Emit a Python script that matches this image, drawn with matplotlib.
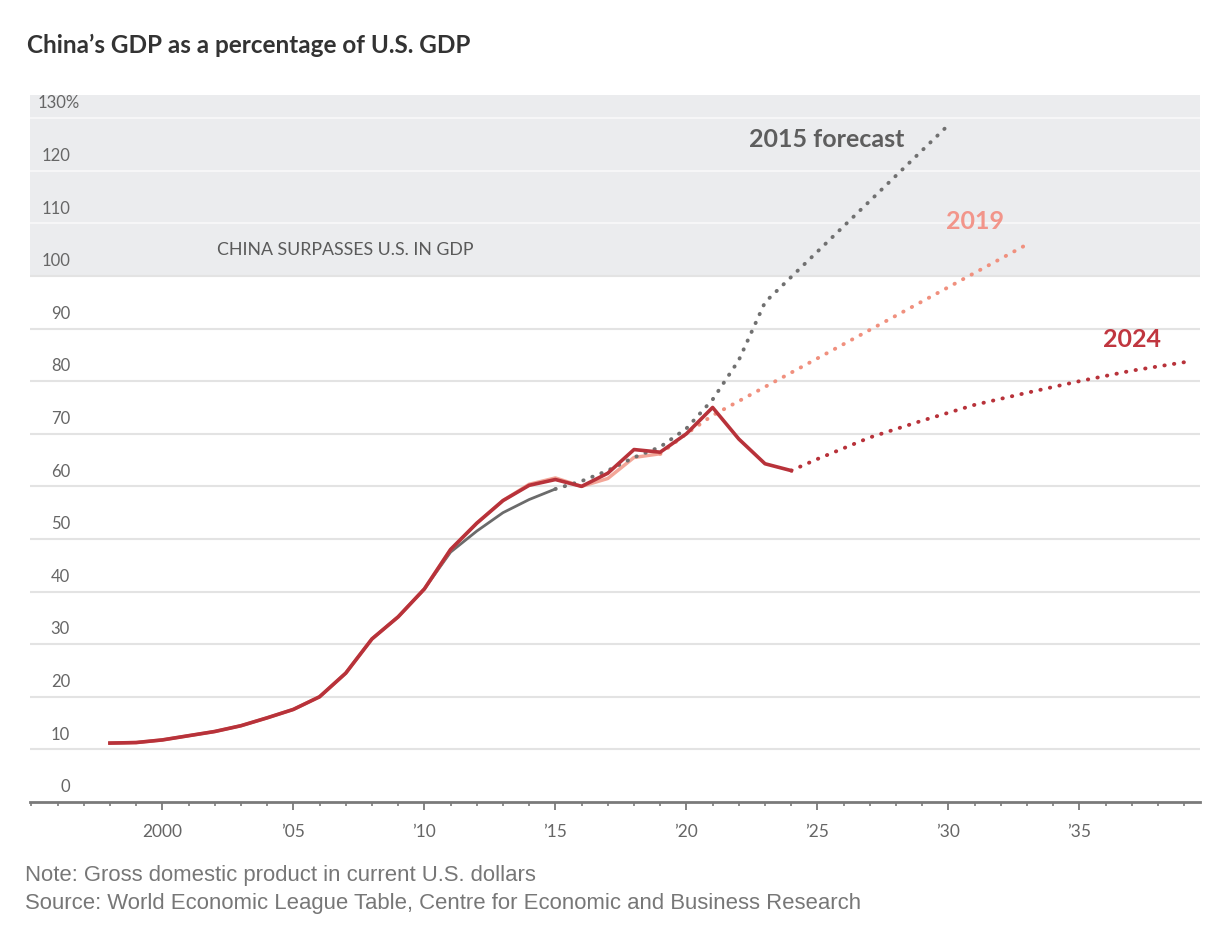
import matplotlib.pyplot as plt
from matplotlib.ticker import FixedLocator, MultipleLocator
import matplotlib.transforms as mtransforms

# --- data ---
years_hist = list(range(1998, 2025))
actual_2024 = [11.2, 11.3, 11.8, 12.6, 13.4, 14.5, 16.0, 17.6, 20.0, 24.5, 31.0,
               35.2, 40.5, 48.0, 53.0, 57.3, 60.2, 61.3, 60.0, 62.5, 67.0, 66.5,
               70.0, 75.0, 69.0, 64.3, 63.0]

years_2015 = list(range(1998, 2016))
actual_2015 = [11.2, 11.3, 11.8, 12.6, 13.4, 14.5, 16.0, 17.6, 20.0, 24.5, 31.0,
               35.2, 40.5, 47.5, 51.5, 55.0, 57.5, 59.5]
fc_2015_years = [2015, 2016, 2017, 2018, 2019, 2020, 2021, 2022, 2023, 2030]
fc_2015 = [59.5, 61.0, 63.0, 65.5, 67.5, 71.0, 76.5, 84.0, 95.0, 128.7]

years_2019 = list(range(1998, 2020))
actual_2019 = [11.2, 11.3, 11.8, 12.6, 13.4, 14.5, 16.0, 17.6, 20.0, 24.5, 31.0,
               35.2, 40.5, 48.0, 53.0, 57.3, 60.4, 61.6, 60.0, 61.5, 65.5, 66.2]
fc_2019_years = [2019, 2020, 2021, 2033]
fc_2019 = [66.2, 70.0, 73.5, 106.0]

fc_2024_years = [2024, 2025, 2027, 2029, 2031, 2033, 2035, 2037, 2039]
fc_2024 = [63.0, 65.2, 69.3, 72.5, 75.5, 77.8, 80.0, 82.0, 83.6]

y_ticks = list(range(0, 140, 10))
x_major = [2000, 2005, 2010, 2015, 2020, 2025, 2030, 2035]
x_labels = ['2000', '\u201905', '\u201910', '\u201915', '\u201920', '\u201925', '\u201930', '\u201935']

RED = '#b8323a'
SALMON = '#f0907e'
GRAY = '#6b6b6b'

plt.rcParams['font.family'] = ['Lato', 'DejaVu Sans']

fig = plt.figure(figsize=(12.06, 9.26), dpi=100)
ax = fig.add_axes([30 / 1206, 124 / 926, 1170 / 1206, 707 / 926])
ax.set_xlim(1994.95, 2039.6)
ax.set_ylim(0, 134.4)

# shaded region above 100 %
ax.axhspan(100, 134.4, color='#ebecee', zorder=0, lw=0)
for v in y_ticks[1:]:
    c = '#f6f6f7' if v > 100 else '#e3e3e3'
    ax.axhline(v, color=c, lw=1.5, zorder=1)

# y tick labels drawn inside the axes
trans = mtransforms.blended_transform_factory(ax.transAxes, ax.transData)
for v in y_ticks:
    if v == 130:
        ax.text(8 / 1170, v + 1.3, '130%', transform=trans, ha='left', va='bottom',
                fontsize=12, color='#666666')
    else:
        ax.text(40 / 1170, v + 1.3, str(v), transform=trans, ha='right', va='bottom',
                fontsize=12, color='#666666')

ax.text(2002.1, 105, 'CHINA SURPASSES U.S. IN GDP', fontsize=12.8,
        color='#5a5a5a', va='center', ha='left')

# lines
ax.plot(years_2015, actual_2015, color=GRAY, lw=2, zorder=3)
ax.plot(years_2019, actual_2019, color=SALMON, lw=2.5, alpha=0.8, zorder=3)
ax.plot(years_hist, actual_2024, color=RED, lw=2.6, zorder=4)

dot = dict(linestyle=(0, (0.1, 2.4)), dash_capstyle='round', lw=2.8, zorder=3)
ax.plot(fc_2015_years, fc_2015, color='#707070', **dot)
ax.plot(fc_2019_years, fc_2019, color=SALMON, **dot)
ax.plot(fc_2024_years, fc_2024, color=RED, **dot)

ax.text(2022.4, 125.9, '2015 forecast', fontsize=18, fontweight='bold',
        color='#5e5e5e', va='center', ha='left')
ax.text(2031.0, 110.3, '2019', fontsize=18, fontweight='bold',
        color='#f2958a', va='center', ha='center')
ax.text(2037.0, 88.0, '2024', fontsize=18, fontweight='bold',
        color='#c0363f', va='center', ha='center')

# axes styling
for s in ['top', 'right', 'left']:
    ax.spines[s].set_visible(False)
ax.spines['bottom'].set_color('#7a7a7a')
ax.spines['bottom'].set_linewidth(2)
ax.set_yticks([])
ax.xaxis.set_major_locator(FixedLocator(x_major))
ax.xaxis.set_minor_locator(MultipleLocator(1))
ax.set_xticklabels(x_labels)
ax.tick_params(axis='x', which='major', length=6, width=1.3, color='#7a7a7a',
               labelsize=12.5, labelcolor='#666666', pad=10)
ax.tick_params(axis='x', which='minor', length=3, width=1.2, color='#7a7a7a')

fig.text(27 / 1206, 1 - 45 / 926, 'China\u2019s GDP as a percentage of U.S. GDP',
         fontsize=17.5, fontweight='bold', color='#333333', va='center', ha='left')
fig.text(25 / 1206, 1 - 875 / 926, 'Note: Gross domestic product in current U.S. dollars',
         fontsize=15.9, color='#777777', va='center', ha='left', family=['Liberation Sans', 'DejaVu Sans'])
fig.text(25 / 1206, 1 - 904 / 926,
         'Source: World Economic League Table, Centre for Economic and Business Research',
         fontsize=15.9, color='#777777', va='center', ha='left', family=['Liberation Sans', 'DejaVu Sans'])

fig.savefig('out.png', dpi=100, facecolor='white')
